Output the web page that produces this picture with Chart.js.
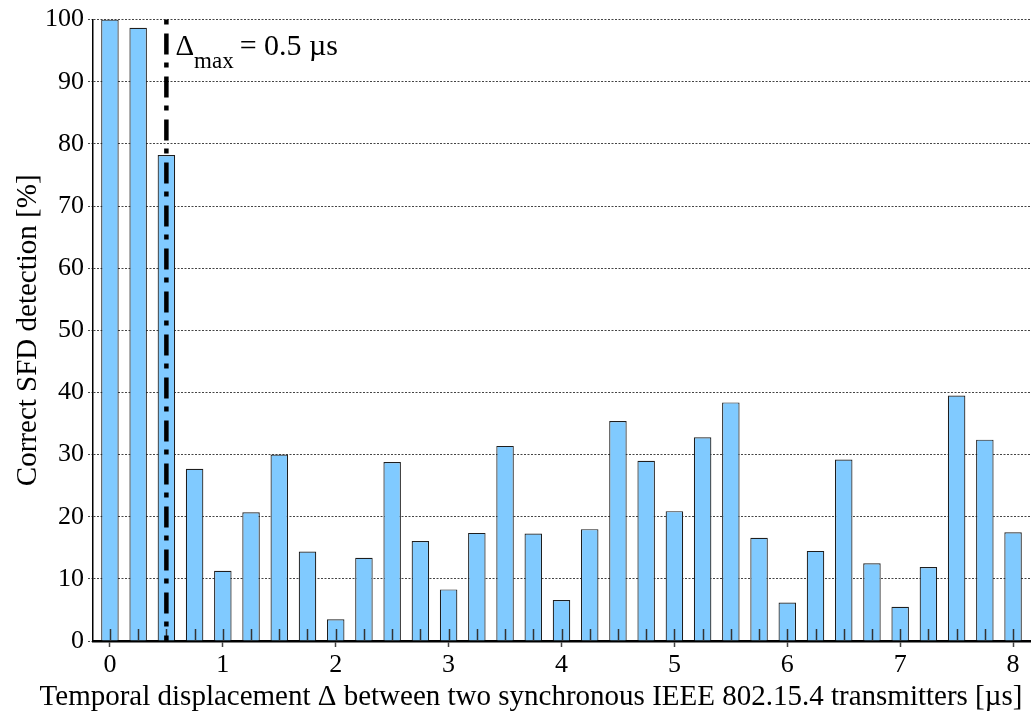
<!DOCTYPE html>
<html>
<head>
<meta charset="utf-8">
<script src="https://cdn.jsdelivr.net/npm/chart.js@4/dist/chart.umd.min.js"></script>
<style>
  html, body { margin: 0; padding: 0; background: #fff; }
  #wrap { width: 1031px; height: 717px; position: relative; }
</style>
</head>
<body>
<div id="wrap"><canvas id="c"></canvas></div>
<script>
// Temporal displacement between the two transmitters [µs]
const displacement = [0, 0.25, 0.5, 0.75, 1, 1.25, 1.5, 1.75, 2, 2.25, 2.5, 2.75, 3, 3.25, 3.5, 3.75,
                      4, 4.25, 4.5, 4.75, 5, 5.25, 5.5, 5.75, 6, 6.25, 6.5, 6.75, 7, 7.25, 7.5, 7.75, 8];
// Share of correctly detected SFDs [%]
const detection = [100, 98.7, 78.2, 27.7, 11.3, 20.7, 30.0, 14.4, 3.5, 13.4, 28.8, 16.1, 8.3, 17.4, 31.4, 17.3,
                   6.6, 18.0, 35.4, 29.0, 20.9, 32.8, 38.4, 16.6, 6.2, 14.5, 29.2, 12.5, 5.5, 11.9, 39.5, 32.4, 17.5];
// Maximum tolerated displacement [µs]
const deltaMax = 0.5;
const xTickValues = [0, 1, 2, 3, 4, 5, 6, 7, 8];
const yTickValues = [0, 10, 20, 30, 40, 50, 60, 70, 80, 90, 100];
const xTitle = 'Temporal displacement Δ between two synchronous IEEE 802.15.4 transmitters [µs]';
const yTitle = 'Correct SFD detection [%]';

const FONT = '"Liberation Serif", "DejaVu Serif", serif';

// Short inner tick marks at every measured displacement, the Δmax marker line and label,
// and the x-axis title centred under the figure
const overlay = {
  id: 'overlay',
  afterDatasetsDraw(chart) {
    const { ctx, chartArea, scales: { x } } = chart;
    ctx.save();
    ctx.strokeStyle = '#333';
    ctx.lineWidth = 1.5;
    displacement.forEach(v => {
      const px = Math.round(x.getPixelForValue(v)) + 0.5;
      ctx.beginPath();
      ctx.moveTo(px, chartArea.bottom);
      ctx.lineTo(px, chartArea.bottom - 12);
      ctx.stroke();
    });

    // dash-dot line at Δmax
    const lx = x.getPixelForValue(deltaMax);
    ctx.strokeStyle = '#000';
    ctx.lineWidth = 4.5;
    ctx.setLineDash([21, 8, 5, 9]);
    ctx.lineDashOffset = 29;
    ctx.beginPath();
    ctx.moveTo(lx, chartArea.top);
    ctx.lineTo(lx, chartArea.bottom);
    ctx.stroke();
    ctx.setLineDash([]);

    // label: Δ_max = 0.5 µs
    ctx.fillStyle = '#000';
    ctx.textBaseline = 'alphabetic';
    ctx.textAlign = 'left';
    let tx = lx + 9;
    const base = chartArea.top + 35;
    ctx.font = '29px ' + FONT;
    ctx.fillText('Δ', tx, base);
    tx += ctx.measureText('Δ').width;
    ctx.font = '23px ' + FONT;
    ctx.fillText('max', tx, base + 13);
    tx += ctx.measureText('max').width + 6;
    ctx.font = '30px ' + FONT;
    ctx.fillText('= ' + deltaMax + ' µs', tx, base);

    // x-axis title
    ctx.font = '29px ' + FONT;
    ctx.textAlign = 'center';
    ctx.textBaseline = 'middle';
    ctx.fillText(xTitle, 531, chart.height - 20);
    ctx.restore();
  }
};

new Chart(document.getElementById('c'), {
  type: 'bar',
  data: {
    datasets: [{
      data: displacement.map((d, i) => ({ x: d, y: detection[i] })),
      backgroundColor: 'rgb(128, 202, 255)',
      borderColor: '#1e1e1e',
      borderWidth: 1.2,
      borderSkipped: 'bottom',
      barPercentage: 0.62,
      categoryPercentage: 1.0
    }]
  },
  options: {
    responsive: true,
    maintainAspectRatio: false,
    animation: false,
    layout: { padding: { top: 17, right: 1, left: 0, bottom: 0 } },
    plugins: { legend: { display: false }, tooltip: { enabled: false } },
    scales: {
      x: {
        type: 'linear',
        offset: false,
        min: -0.15,
        max: 8.15,
        ticks: {
          stepSize: 1,
          color: '#000',
          font: { family: FONT, size: 26 },
          padding: 3,
          maxRotation: 0
        },
        afterBuildTicks(scale) {
          scale.ticks = xTickValues.map(v => ({ value: v }));
        },
        grid: {
          offset: false,
          drawOnChartArea: false,
          tickLength: 6,
          tickColor: '#444',
          tickWidth: 1.5
        },
        border: { display: true, color: '#000', width: 2.5 },
        title: { display: false },
        afterFit(scale) { scale.height = 76; }
      },
      y: {
        min: 0,
        max: 100,
        ticks: {
          stepSize: 10,
          color: '#000',
          font: { family: FONT, size: 26 },
          padding: 4
        },
        afterBuildTicks(scale) {
          scale.ticks = yTickValues.map(v => ({ value: v }));
        },
        grid: {
          color: '#444',
          lineWidth: 1,
          tickLength: 5,
          tickBorderDash: [2, 1.5],
          tickColor: '#444'
        },
        border: { display: true, color: '#000', width: 1.5, dash: [2, 1.5] },
        title: {
          display: true,
          text: yTitle,
          color: '#000',
          font: { family: FONT, size: 29 },
          padding: { top: 11, bottom: 0 }
        },
        afterFit(scale) { scale.width = 93; }
      }
    }
  },
  plugins: [overlay]
});
</script>
</body>
</html>
